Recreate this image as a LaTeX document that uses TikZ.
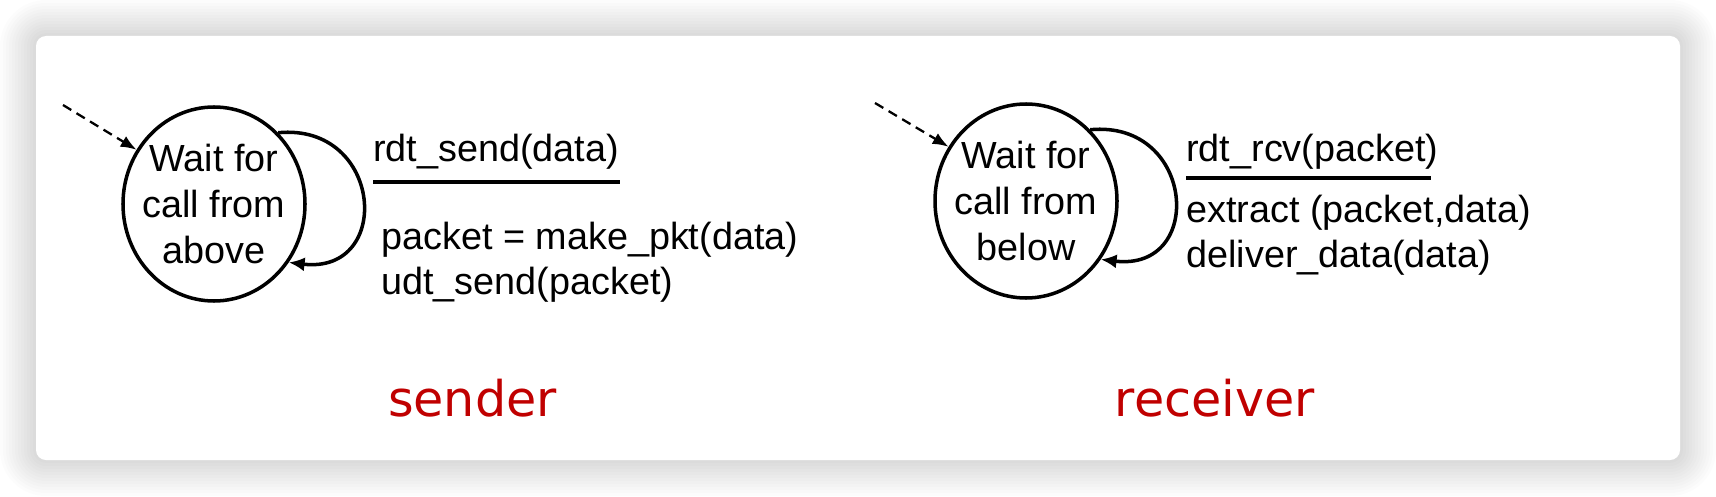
\documentclass[tikz,border=0pt]{standalone}
\usepackage{fontspec}
\setmainfont{Liberation Sans}
\newfontfamily\rolefont{DejaVu Sans}
\usetikzlibrary{shapes.geometric,arrows.meta}
\definecolor{rolered}{HTML}{C00000}

\begin{document}
\begin{tikzpicture}[
    state/.style={ellipse, draw, line width=2pt, minimum width=3.64cm, minimum height=3.88cm,
        inner xsep=-4pt, inner ysep=0pt, align=center, font=\fontsize{21.5}{26}\selectfont},
    initial/.style={dash pattern=on 5.5pt off 3.5pt, line width=1.3pt, -{Latex[length=9pt,width=7pt]}},
    selfloop/.style={line width=2pt, -{Latex[length=9pt,width=8pt]}},
    fsmtext/.style={inner sep=0pt, align=left, font=\fontsize{21.5}{25.8}\selectfont},
    guard/.style={line width=2.6pt},
    role/.style={inner sep=0pt, text=rolered, font=\rolefont\fontsize{28}{32}\selectfont}
]
\useasboundingbox (0,0) rectangle (34.32,9.92);

% card with soft shadow
\foreach \s in {1,...,12}{
    \pgfmathsetmacro\rr{0.2+\s*0.06}
    \fill[black, opacity=0.011, rounded corners=\rr cm]
        ({0.72-\s*0.06},{0.72-\s*0.06}) rectangle ({33.6+\s*0.06},{9.2+\s*0.06});
}
\fill[white, rounded corners=0.2cm] (0.72,0.72) rectangle (33.6,9.2);

% sender
\node[state] (snd) at (4.28,5.84) {Wait for\\call from\\above};
\coordinate (sndstart) at (1.26,7.82);
\draw[initial] (sndstart) -- (snd.145);
\draw[selfloop] (snd.48) .. controls +(2.1,0.2) and +(2.1,-0.25) .. (snd.-38);

\node[fsmtext, anchor=west] (sndev) at (7.46,6.88) {rdt\_send(data)};
\draw[guard] (7.46,6.28) -- (12.4,6.28);
\node[fsmtext, anchor=west] (sndact) at (7.62,4.67) {packet = make\_pkt(data)\\udt\_send(packet)};

\node[role] (sndrole) at (9.45,1.96) {sender};

% receiver
\node[state] (rcv) at (20.52,5.9) {Wait for\\call from\\below};
\coordinate (rcvstart) at (17.5,7.86);
\draw[initial] (rcvstart) -- (rcv.145);
\draw[selfloop] (rcv.48) .. controls +(2.1,0.2) and +(2.1,-0.25) .. (rcv.-38);

\node[fsmtext, anchor=west] (rcvev) at (23.72,6.88) {rdt\_rcv(packet)};
\draw[guard] (23.72,6.36) -- (28.62,6.36);
\node[fsmtext, anchor=west] (rcvact) at (23.72,5.22) {extract (packet,data)\\deliver\_data(data)};

\node[role] (rcvrole) at (24.3,1.96) {receiver};
\end{tikzpicture}
\end{document}
